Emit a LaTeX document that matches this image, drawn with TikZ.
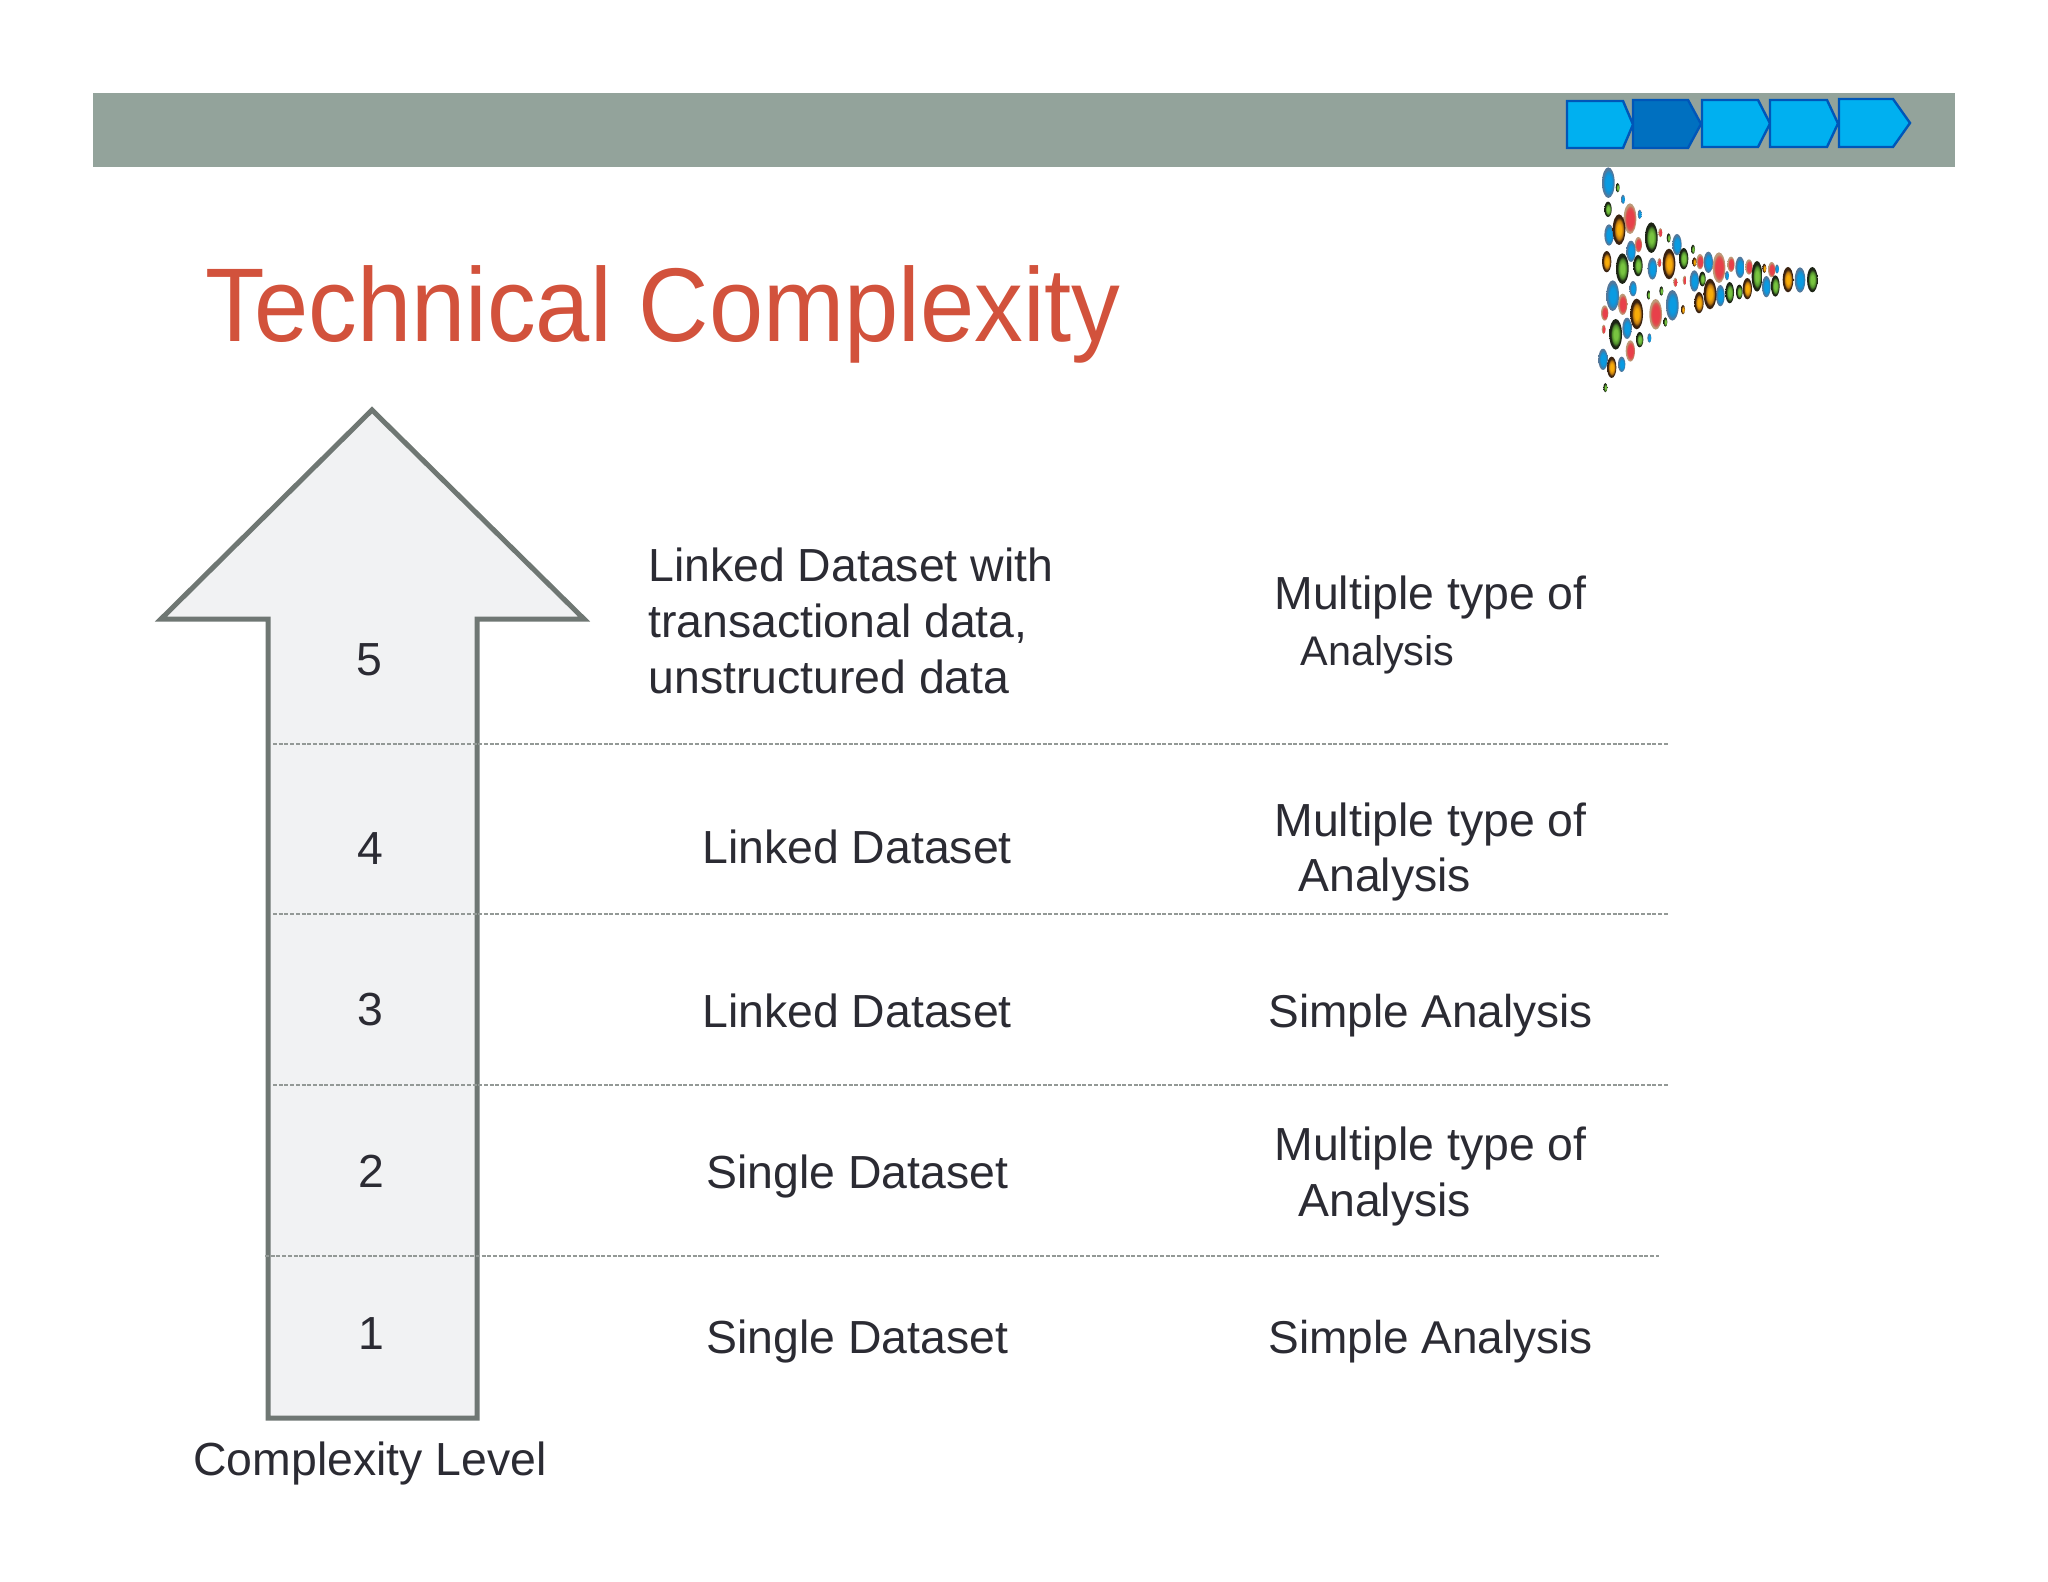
\documentclass[tikz,border=0pt]{standalone}
\usepackage{fontspec}
\setmainfont{Liberation Sans}
\newfontfamily\titlefont[FakeStretch=0.93]{Liberation Sans}
\definecolor{barcol}{HTML}{93A39B}
\definecolor{edgecol}{HTML}{6F7773}
\definecolor{fillcol}{HTML}{F1F2F3}
\definecolor{titlecol}{HTML}{D2523C}
\definecolor{txtcol}{HTML}{2B2B33}
\definecolor{chevlight}{HTML}{00B0F0}
\definecolor{chevdark}{HTML}{0070C0}
\definecolor{chevedge}{HTML}{0056B8}
\definecolor{bluea}{HTML}{0A9BE2}\definecolor{blueb}{HTML}{1E8AC8}\definecolor{bluec}{HTML}{54789A}
\definecolor{reda}{HTML}{E8404A}\definecolor{redb}{HTML}{D85A50}\definecolor{redc}{HTML}{BC9A78}
\definecolor{orga}{HTML}{F8AC08}\definecolor{orgb}{HTML}{C07A10}\definecolor{orgc}{HTML}{3A2210}
\definecolor{grna}{HTML}{78C440}\definecolor{grnb}{HTML}{50902C}\definecolor{grnc}{HTML}{1C2414}
\pgfdeclareradialshading{ballblue}{\pgfpointorigin}{color(0bp)=(bluea); color(11bp)=(bluea); color(17bp)=(blueb); color(22bp)=(bluec); color(50bp)=(bluec)}
\pgfdeclareradialshading{ballred}{\pgfpointorigin}{color(0bp)=(reda); color(13bp)=(reda); color(18bp)=(redb); color(22bp)=(redc); color(50bp)=(redc)}
\pgfdeclareradialshading{ballorg}{\pgfpointorigin}{color(0bp)=(orga); color(8bp)=(orga); color(15bp)=(orgb); color(20bp)=(orgc); color(50bp)=(orgc)}
\pgfdeclareradialshading{ballgrn}{\pgfpointorigin}{color(0bp)=(grna); color(8bp)=(grna); color(15bp)=(grnb); color(20bp)=(grnc); color(50bp)=(grnc)}
\newcommand{\ballset}[2]{\foreach \cx/\cy/\rx/\ry in {#2} \shade[shading=#1] (\cx,\cy) ellipse ({\rx} and {\ry});}
\tikzset{
    cell/.style={font=\fontsize{23.2}{28}\selectfont, text=txtcol, inner sep=0pt, anchor=base west, align=left},
    small/.style={cell, font=\fontsize{20.7}{25}\selectfont},
    simple/.style={cell, font=\fontsize{23}{28}\selectfont},
    num/.style={cell, anchor=base},
    rowline/.style={draw=edgecol!75, line width=.55pt, dash pattern=on 2pt off .85pt},
    chev/.style={draw=chevedge, line width=1.2pt, fill=chevlight}
}
\begin{document}
\begin{tikzpicture}[x=.5pt,y=-.5pt]
    \useasboundingbox (0,0) rectangle (2048,1582);
    \fill[barcol] (93,93) rectangle (1955,167);
    % process chevrons
    \foreach \xa/\xb/\xc/\ya/\yb in {1567/1623/1633/101/148,1702/1758/1770/100/147,1770/1827/1838/100/147,1839/1893/1910/99/147}
        \draw[chev] (\xa,\ya) -- (\xb,\ya) -- (\xc,{(\ya+\yb)/2}) -- (\xb,\yb) -- (\xa,\yb) -- cycle;
    \draw[chev, fill=chevdark] (1633,100) -- (1688,100) -- (1701,124) -- (1688,148) -- (1633,148) -- cycle;
    % logo
    \begin{scope}[shift={(1540,80)}, x=.5pt/3, y=-.5pt/3]
        \ballset{ballred}{270/416/19/46,295/494/11/23,480/545/11/23,537/563/19/46,573/553/11/23,627/561/11/23,695/569/11/23,248/673/14/32,347/703/19/46,194/699/11/23,271/813/14/32,361/458/6/14,358/548/6/14,406/607/6/14,434/601/6/14,191/748/6/14}
        \ballset{ballblue}{205/308/19/46,207/465/14/32,273/514/14/32,337/566/14/33,411/494/14/32,505/547/14/32,600/562/14/32,463/603/14/32,541/647/13/32,679/620/13/32,780/600/16/38,218/647/19/46,279/626/11/23,397/676/19/46,261/745/14/32,189/838/14/32,245/853/11/23,249/358/6/14,299/403/6/14,561/587/6/14,711/567/6/14,328/774/6/14}
        \ballset{ballorg}{237/449/19/46,200/545/14/32,387/552/19/46,510/642/19/46,477/668/14/32,622/626/14/32,290/702/19/46,215/862/14/32,744/599/16/38,463/546/6/14,673/565/6/14,429/689/6/14}
        \ballset{ballgrn}{204/388/11/23,334/473/19/46,247/566/19/46,294/557/14/32,431/536/14/32,487/597/10/22,569/638/13/32,598/636/10/22,651/589/16/46,706/618/13/32,817/599/16/38,227/763/19/46,299/779/11/23,233/323/6/14,386/474/6/14,459/508/6/14,326/645/6/14,364/633/6/14,376/726/6/14,196/923/6/14}
    \end{scope}
    \node[anchor=base west, inner sep=0pt, text=titlecol, font=\titlefont\fontsize{52.4}{60}\selectfont] (title) at (205,342) {Technical Complexity};
    % level arrow
    \draw[draw=edgecol, fill=fillcol, line width=2.5pt, miter limit=10] (372,410) -- (584,619) -- (477,619) -- (477,1418) -- (268,1418) -- (268,619) -- (161,619) -- cycle;
    \foreach \yy in {744,914,1085} \draw[rowline] (273,\yy) -- (1668,\yy);
    \draw[rowline] (265,1256) -- (1659,1256);
    \foreach \name/\lab/\xx/\yy in {five/5/369/675,four/4/370/864,three/3/370/1025,two/2/371/1187,one/1/371/1349}
        \node[num] (\name) at (\xx,\yy) {\lab};
    \node[num] (level) at (370,1475) {Complexity Level};
    % data column
    \node[cell, anchor=base west] (dfive) at (648,693) {Linked Dataset with\\transactional data,\\unstructured data};
    \node[cell] (dfour) at (702,863) {Linked Dataset};
    \node[cell] (dthree) at (702,1027) {Linked Dataset};
    \node[cell] (dtwo) at (706,1188) {Single Dataset};
    \node[cell] (done) at (706,1353) {Single Dataset};
    % analysis column
    \node[cell] (afive) at (1274,610) {Multiple type of};
    \node[small] (afiveb) at (1300,665) {Analysis};
    \node[cell] (afour) at (1274,836) {Multiple type of};
    \node[cell] (afourb) at (1298,891) {Analysis};
    \node[simple] (athree) at (1268,1027) {Simple Analysis};
    \node[cell] (atwo) at (1274,1160) {Multiple type of};
    \node[cell] (atwob) at (1298,1216) {Analysis};
    \node[simple] (aone) at (1268,1353) {Simple Analysis};
\end{tikzpicture}
\end{document}
